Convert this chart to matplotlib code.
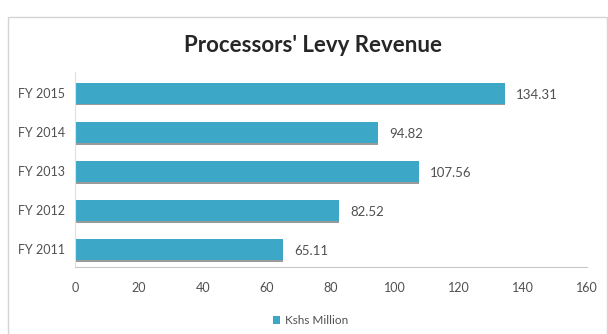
import matplotlib.pyplot as plt
from matplotlib.patches import Rectangle

# Processors' levy revenue, Kshs million
years = ["FY 2011", "FY 2012", "FY 2013", "FY 2014", "FY 2015"]
revenue = [65.11, 82.52, 107.56, 94.82, 134.31]
x_ticks = [0, 20, 40, 60, 80, 100, 120, 140, 160]

bar_color = "#3DA7C8"
text_color = "#505050"
plt.rcParams["font.family"] = ["Lato", "DejaVu Sans"]

fig = plt.figure(figsize=(6.08, 3.34), dpi=100)
fig.patch.set_facecolor("white")

# outer chart border
fig.patches.append(Rectangle((0.013, -0.02), 0.985, 0.97, transform=fig.transFigure,
                             fill=False, edgecolor="#d4d4d4", linewidth=1.0))

ax = fig.add_axes([0.1234, 0.2006, 0.842, 0.584])
pos = range(len(years))

# thin grey shadow under each bar
ax.barh([p - 0.285 for p in pos], revenue, height=0.05, color="#9a9a9a", zorder=1)
ax.barh(pos, revenue, height=0.52, color=bar_color, zorder=2, label="Kshs Million")

for p, v in zip(pos, revenue):
    ax.text(v + 3.4, p - 0.03, f"{v:.2f}", va="center", ha="left",
            fontsize=9.5, color=text_color)

ax.set_xlim(0, 160)
ax.set_ylim(-0.45, len(years) - 0.45)
ax.set_xticks(x_ticks)
ax.set_yticks(list(pos))
ax.set_yticklabels(years)
ax.tick_params(axis="both", length=0, labelsize=9, colors=text_color)
ax.tick_params(axis="x", pad=11)
ax.tick_params(axis="y", pad=7)

for side in ["top", "right"]:
    ax.spines[side].set_visible(False)
ax.spines["bottom"].set_color("#c8c8c8")
ax.spines["left"].set_color("#e0e0e0")

fig.text(0.515, 0.865, "Processors' Levy Revenue", ha="center", va="center",
         fontsize=16, fontweight="bold", color="#262626")

ax.legend(loc="center", bbox_to_anchor=(0.46, -0.275), frameon=False,
          fontsize=8.5, handlelength=0.6, handleheight=0.6, handletextpad=0.4,
          labelcolor=text_color)

fig.savefig("out.png", dpi=100, facecolor="white")
